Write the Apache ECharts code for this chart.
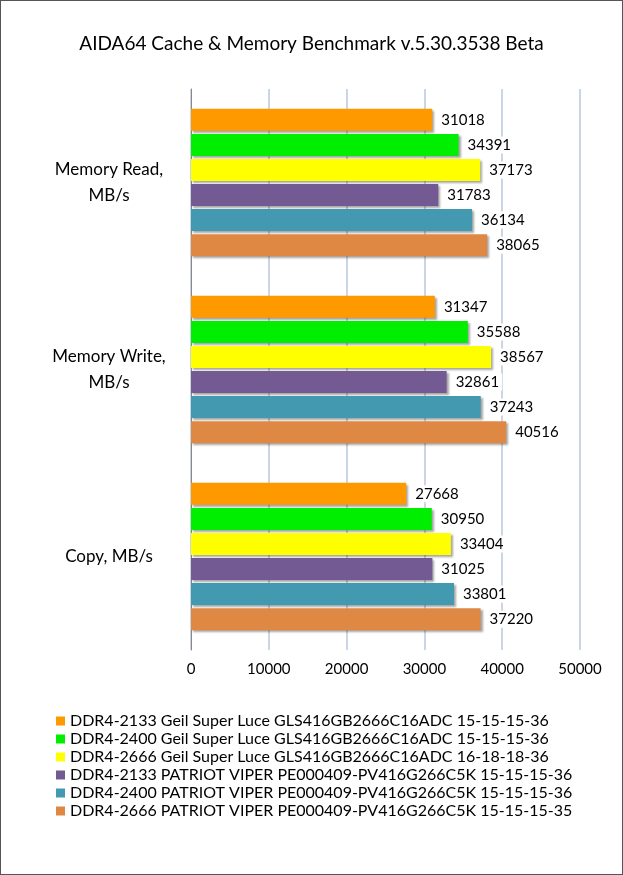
<!DOCTYPE html>
<html><head><meta charset="utf-8">
<script src="https://cdn.jsdelivr.net/npm/echarts@6/dist/echarts.min.js"></script>
<style>html,body{margin:0;padding:0;background:#fff}#c{width:621px;height:873px;border:1px solid #555}</style>
</head><body><div id="c"></div>
<script>
var categories = ['Memory Read,\nMB/s', 'Memory Write,\nMB/s', 'Copy, MB/s'];
var seriesNames = [
  'DDR4-2133 Geil Super Luce GLS416GB2666C16ADC 15-15-15-36',
  'DDR4-2400 Geil Super Luce GLS416GB2666C16ADC 15-15-15-36',
  'DDR4-2666 Geil Super Luce GLS416GB2666C16ADC 16-18-18-36',
  'DDR4-2133 PATRIOT VIPER PE000409-PV416G266C5K 15-15-15-36',
  'DDR4-2400 PATRIOT VIPER PE000409-PV416G266C5K 15-15-15-36',
  'DDR4-2666 PATRIOT VIPER PE000409-PV416G266C5K 15-15-15-35'
];
var values = [
  [31018, 31347, 27668],
  [34391, 35588, 30950],
  [37173, 38567, 33404],
  [31783, 32861, 31025],
  [36134, 37243, 33801],
  [38065, 40516, 37220]
];
var colors = ['#FF9900', '#00EE00', '#FFFF00', '#735A92', '#4399B0', '#DE8844'];

var chart = echarts.init(document.getElementById('c'));
var font = 'Lato, "Open Sans", sans-serif';
chart.setOption({
  animation: false,
  textStyle: { fontFamily: font },
  title: { text: 'AIDA64 Cache & Memory Benchmark v.5.30.3538 Beta', left: 'center', top: 28,
    textStyle: { fontSize: 19, fontWeight: 'normal', color: '#000', fontFamily: font } },
  grid: { left: 190, right: 42, top: 88, bottom: 224 },
  xAxis: { type: 'value', min: 0, max: 50000, interval: 10000,
    axisLine: { show: false }, axisTick: { show: false },
    axisLabel: { fontSize: 15, color: '#000', margin: 12, formatter: function (v) { return String(v); } },
    splitLine: { lineStyle: { color: '#B9C8DE', width: 1.5 } } },
  yAxis: { type: 'category', data: categories, inverse: true,
    axisLine: { lineStyle: { color: '#888' } }, axisTick: { show: false },
    axisLabel: { fontSize: 17, color: '#000', margin: 82, align: 'center', lineHeight: 26 } },
  legend: { orient: 'vertical', left: 50, top: 707, itemWidth: 9, itemHeight: 9, itemGap: 2,
    icon: 'rect', textStyle: { fontSize: 16, color: '#000', fontFamily: font } },
  series: seriesNames.map(function (n, i) {
    return { name: n, type: 'bar', data: values[i], barWidth: 22, barGap: '14%',
      itemStyle: { color: colors[i], shadowColor: 'rgba(0,0,0,0.35)', shadowOffsetX: 2, shadowOffsetY: 2, shadowBlur: 2 },
      label: { show: true, position: 'right', distance: 6, fontSize: 15, color: '#000',
        backgroundColor: '#fff', padding: [1, 3] } };
  })
});
</script></body></html>
